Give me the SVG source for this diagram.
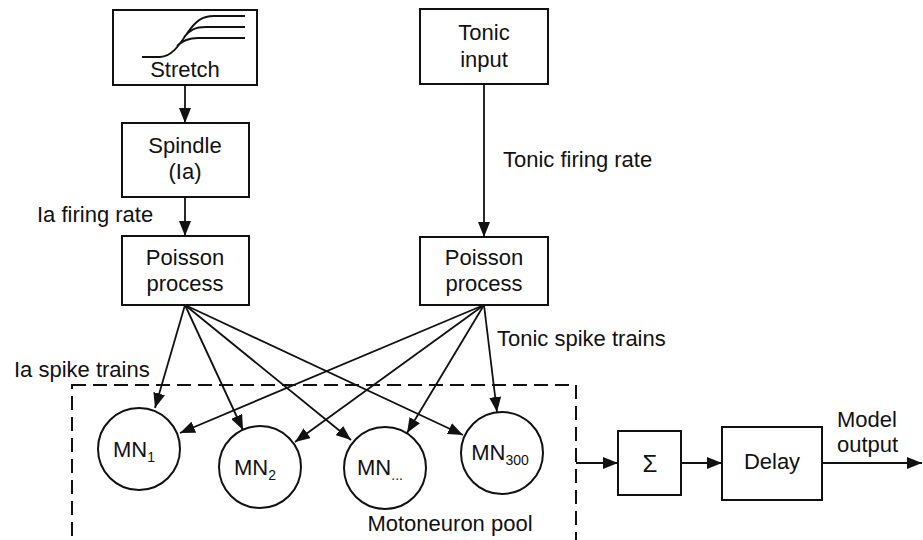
<svg xmlns="http://www.w3.org/2000/svg" width="923" height="540" viewBox="0 0 923 540">
<style>
text{font-family:"Liberation Sans",Arial,sans-serif;font-size:22px;fill:#111}
.c{text-anchor:middle}
.sub{font-size:14px}
.box{fill:#fff;stroke:#111;stroke-width:2}
.ln{fill:none;stroke:#111;stroke-width:1.8}
</style>
<defs>
<marker id="ah" markerUnits="userSpaceOnUse" markerWidth="16" markerHeight="12" refX="15" refY="6" orient="auto">
<path d="M0,0 L15,6 L0,12 z" fill="#111"/>
</marker>
</defs>
<g id="pool">
<rect x="72" y="385" width="504" height="170" fill="none" stroke="#111" stroke-width="2" stroke-dasharray="14,7"/>
<text x="450" y="531" class="c">Motoneuron pool</text>
</g>
<g id="stretch">
<rect class="box" x="113" y="10" width="144" height="75"/>
<path class="ln" stroke-width="2.2" d="M142,57 L160,57 C172,57 180,44 188,32 C196,21 202,16 214,16 L245,16 M184,37 C190,30 195,27 206,27 L245,27 M177,46 C183,40 189,38 198,38 L245,38"/>
<text x="185" y="77" class="c">Stretch</text>
</g>
<g id="spindle">
<rect class="box" x="122" y="123" width="127" height="74"/>
<text x="185" y="153" class="c">Spindle</text>
<text x="185" y="179" class="c">(Ia)</text>
</g>
<g id="poisson1">
<rect class="box" x="122" y="236" width="127" height="69"/>
<text x="185" y="265" class="c">Poisson</text>
<text x="185" y="291" class="c">process</text>
</g>
<g id="tonic">
<rect class="box" x="420" y="9" width="128" height="75"/>
<text x="484" y="40" class="c">Tonic</text>
<text x="484" y="67" class="c">input</text>
</g>
<g id="poisson2">
<rect class="box" x="420" y="237" width="128" height="68"/>
<text x="484" y="265" class="c">Poisson</text>
<text x="484" y="291" class="c">process</text>
</g>
<g id="mn1">
<circle cx="139" cy="449" r="41" class="box"/>
<text x="134" y="457" class="c">MN<tspan class="sub" dy="5">1</tspan></text>
</g>
<g id="mn2">
<circle cx="260" cy="467" r="41" class="box"/>
<text x="255" y="475" class="c">MN<tspan class="sub" dy="5">2</tspan></text>
</g>
<g id="mn3">
<circle cx="385" cy="468" r="41" class="box"/>
<text x="380" y="475" class="c">MN<tspan class="sub" dy="5">...</tspan></text>
</g>
<g id="mn300">
<circle cx="502" cy="453" r="41" class="box"/>
<text x="500" y="460" class="c">MN<tspan class="sub" dy="5">300</tspan></text>
</g>
<g id="sum">
<rect class="box" x="618" y="431" width="63" height="64"/>
<text x="650" y="472" class="c" style="font-size:24px">Σ</text>
</g>
<g id="delay">
<rect class="box" x="722" y="427" width="100" height="73"/>
<text x="772" y="469" class="c">Delay</text>
</g>
<g id="connectors">
<line class="ln" x1="185" y1="85" x2="185" y2="123" marker-end="url(#ah)"/>
<line class="ln" x1="185" y1="197" x2="185" y2="236" marker-end="url(#ah)"/>
<line class="ln" x1="484" y1="84" x2="484" y2="237" marker-end="url(#ah)"/>
<line class="ln" x1="185" y1="305" x2="155" y2="408" marker-end="url(#ah)"/>
<line class="ln" x1="185" y1="305" x2="243" y2="430" marker-end="url(#ah)"/>
<line class="ln" x1="185" y1="305" x2="351" y2="440" marker-end="url(#ah)"/>
<line class="ln" x1="185" y1="305" x2="463" y2="435" marker-end="url(#ah)"/>
<line class="ln" x1="484" y1="305" x2="180" y2="433" marker-end="url(#ah)"/>
<line class="ln" x1="484" y1="305" x2="295" y2="442" marker-end="url(#ah)"/>
<line class="ln" x1="484" y1="305" x2="407" y2="433" marker-end="url(#ah)"/>
<line class="ln" x1="484" y1="305" x2="497" y2="412" marker-end="url(#ah)"/>
<line class="ln" x1="576" y1="463" x2="618" y2="463" marker-end="url(#ah)"/>
<line class="ln" x1="681" y1="463" x2="722" y2="463" marker-end="url(#ah)"/>
<line class="ln" x1="822" y1="463" x2="922" y2="463" marker-end="url(#ah)"/>
</g>
<g id="labels">
<text x="37" y="222">Ia firing rate</text>
<text x="503" y="167">Tonic firing rate</text>
<text x="14" y="377">Ia spike trains</text>
<text x="497" y="346">Tonic spike trains</text>
<text x="837" y="427">Model</text>
<text x="837" y="452">output</text>
</g>
</svg>
